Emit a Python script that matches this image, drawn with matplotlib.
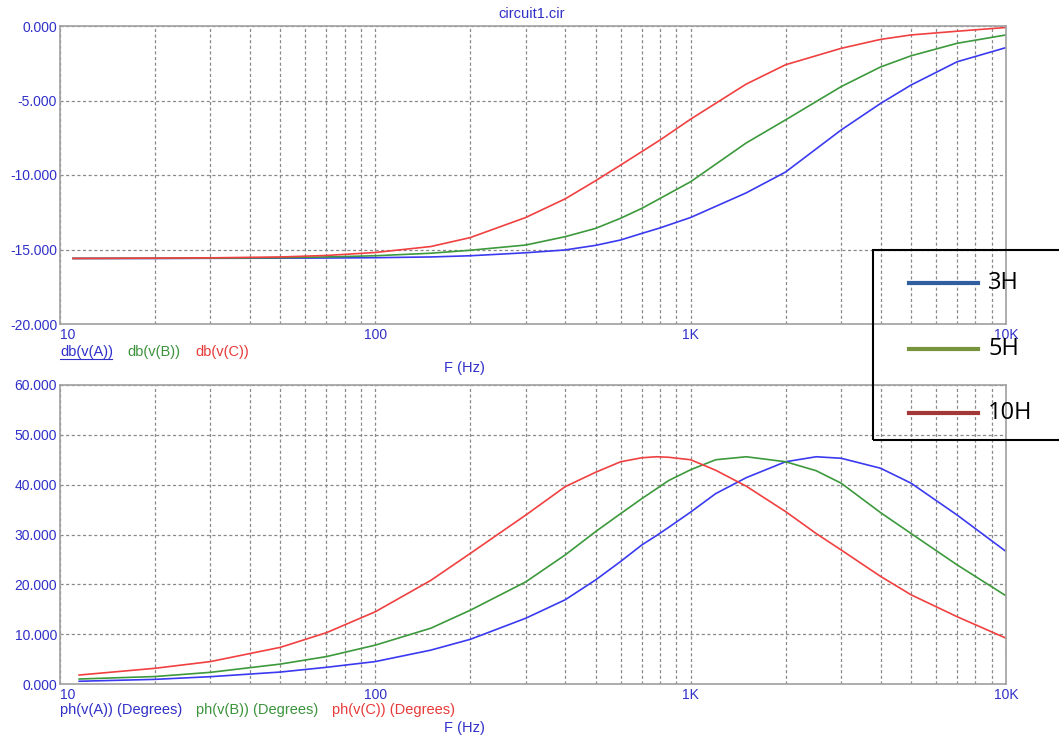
import matplotlib
matplotlib.use("Agg")
import matplotlib.pyplot as plt
from matplotlib.lines import Line2D
from matplotlib.patches import Rectangle
from matplotlib.ticker import FixedLocator, NullFormatter

# valeurs (F en Hz)
freq_db = [11, 20, 30, 50, 70, 100, 150, 200, 300, 400, 500, 600, 700, 800, 1000,
           1500, 2000, 3000, 4000, 5000, 7000, 10000]
db_a = [-15.6, -15.6, -15.59, -15.58, -15.57, -15.55, -15.5, -15.42, -15.22, -15.03,
        -14.72, -14.36, -13.92, -13.55, -12.85, -11.2, -9.8, -6.98, -5.2, -3.96,
        -2.4, -1.45]
db_b = [-15.6, -15.59, -15.58, -15.55, -15.5, -15.42, -15.25, -15.05, -14.7, -14.14,
        -13.58, -12.9, -12.24, -11.57, -10.45, -7.85, -6.3, -4.07, -2.75, -2.0,
        -1.16, -0.6]
db_c = [-15.6, -15.58, -15.56, -15.5, -15.4, -15.2, -14.8, -14.2, -12.85, -11.6,
        -10.38, -9.33, -8.43, -7.65, -6.25, -3.9, -2.6, -1.5, -0.9, -0.6, -0.35, -0.1]

freq_ph = [11.5, 20, 30, 50, 70, 100, 150, 200, 300, 400, 500, 600, 700, 780, 850,
           1000, 1200, 1500, 2000, 2500, 3000, 4000, 5000, 7000, 10000]
ph_a = [0.55, 0.93, 1.47, 2.4, 3.35, 4.5, 6.8, 8.96, 13.2, 16.9, 20.9, 24.6, 27.9,
        29.8, 31.4, 34.5, 38.2, 41.4, 44.6, 45.6, 45.3, 43.3, 40.3, 33.9, 26.6]
ph_b = [1.0, 1.5, 2.34, 4.0, 5.5, 7.8, 11.2, 14.8, 20.5, 25.9, 30.6, 34.2, 37.2,
        39.2, 40.8, 43.0, 45.0, 45.6, 44.6, 42.8, 40.3, 34.4, 30.2, 23.9, 17.7]
ph_c = [1.8, 3.15, 4.5, 7.36, 10.3, 14.5, 20.8, 26.2, 33.9, 39.6, 42.5, 44.6, 45.4,
        45.6, 45.5, 45.0, 42.9, 39.7, 34.6, 30.2, 26.9, 21.6, 17.9, 13.5, 9.2]

x_ticks = [10, 100, 1000, 10000]
x_labels = ["10", "100", "1K", "10K"]
db_ticks = [-20, -15, -10, -5, 0]
ph_ticks = [0, 10, 20, 30, 40, 50, 60]
noms_db = ["db(v(A))", "db(v(B))", "db(v(C))"]
noms_ph = ["ph(v(A)) (Degrees)", "ph(v(B)) (Degrees)", "ph(v(C)) (Degrees)"]
legende = ["3H", "5H", "10H"]

W, H = 1059, 737
BLEU_TXT = "#3030c8"
COULEURS = ["#3a3af0", "#3c993c", "#f04040"]
COULEURS_TXT = [BLEU_TXT, "#3c933c", "#e83a3a"]
COULEURS_LEG = ["#2f5f9e", "#77933c", "#a33636"]


def fx(x):
    return x / W


def fy(y):
    return 1 - y / H


def preparer_axe(ax, yticks):
    ax.set_xscale("log")
    ax.set_xlim(10, 10000)
    ax.set_ylim(yticks[0], yticks[-1])
    ax.xaxis.set_major_locator(FixedLocator(x_ticks))
    ax.set_xticklabels(x_labels)
    mineurs = [m * d for d in (10, 100, 1000) for m in range(2, 10)]
    ax.xaxis.set_minor_locator(FixedLocator(mineurs))
    ax.xaxis.set_minor_formatter(NullFormatter())
    ax.set_yticks(yticks)
    ax.set_yticklabels([f"{v:.3f}" for v in yticks])
    ax.tick_params(which="both", length=0, labelcolor=BLEU_TXT, labelsize=10)
    ax.tick_params(axis="x", pad=3)
    ax.tick_params(axis="y", pad=2)
    ax.get_xticklabels()[0].set_ha("left")
    for lab in ax.get_xticklabels() + ax.get_yticklabels():
        lab.set_fontfamily("Liberation Sans")
    ax.grid(which="both", color="#8a8a8a", linewidth=0.9, linestyle=(0, (2.5, 2)))
    for s in ax.spines.values():
        s.set_color("#a0a0a0")
        s.set_linewidth(1.2)


def tracer():
    fig = plt.figure(figsize=(W / 100, H / 100), dpi=100)

    ax1 = fig.add_axes([fx(60), fy(324), (1006 - 60) / W, (324 - 26) / H])
    preparer_axe(ax1, db_ticks)
    for y, c in zip([db_a, db_b, db_c], COULEURS):
        ax1.plot(freq_db, y, color=c, linewidth=1.2)

    ax2 = fig.add_axes([fx(60), fy(684), (1006 - 60) / W, (684 - 385) / H])
    preparer_axe(ax2, ph_ticks)
    for y, c in zip([ph_a, ph_b, ph_c], COULEURS):
        ax2.plot(freq_ph, y, color=c, linewidth=1.2)

    police = dict(fontsize=10.5, family="Liberation Sans", va="center")
    fig.text(fx(532), fy(14), "circuit1.cir", color=BLEU_TXT, ha="center", **police)

    # noms des traces sous chaque graphe
    for nom, x0, c in zip(noms_db, [60, 127, 195], COULEURS_TXT):
        fig.text(fx(x0), fy(352), nom, color=c, ha="left", **police)
    fig.add_artist(Line2D([fx(60), fx(112)], [fy(359), fy(359)], color=BLEU_TXT, linewidth=0.8))
    for nom, x0, c in zip(noms_ph, [60, 196, 332], COULEURS_TXT):
        fig.text(fx(x0), fy(710), nom, color=c, ha="left", **police)
    fig.text(fx(464), fy(368), "F (Hz)", color=BLEU_TXT, ha="center", **police)
    fig.text(fx(464), fy(728), "F (Hz)", color=BLEU_TXT, ha="center", **police)

    # légende ajoutée par-dessus
    fig.add_artist(Rectangle((fx(873), fy(440)), 0.3, (440 - 250) / H, fill=False,
                             edgecolor="black", linewidth=1.5))
    for lab, y, c in zip(legende, [282.7, 348.7, 412.7], COULEURS_LEG):
        fig.add_artist(Line2D([fx(909), fx(978)], [fy(y), fy(y)], color=c, linewidth=3))
        fig.text(fx(988), fy(y), lab, fontsize=17, family="Open Sans", color="black",
                 ha="left", va="center")

    plt.savefig("out.png", dpi=100)
    plt.close()


if __name__ == "__main__":
    tracer()
